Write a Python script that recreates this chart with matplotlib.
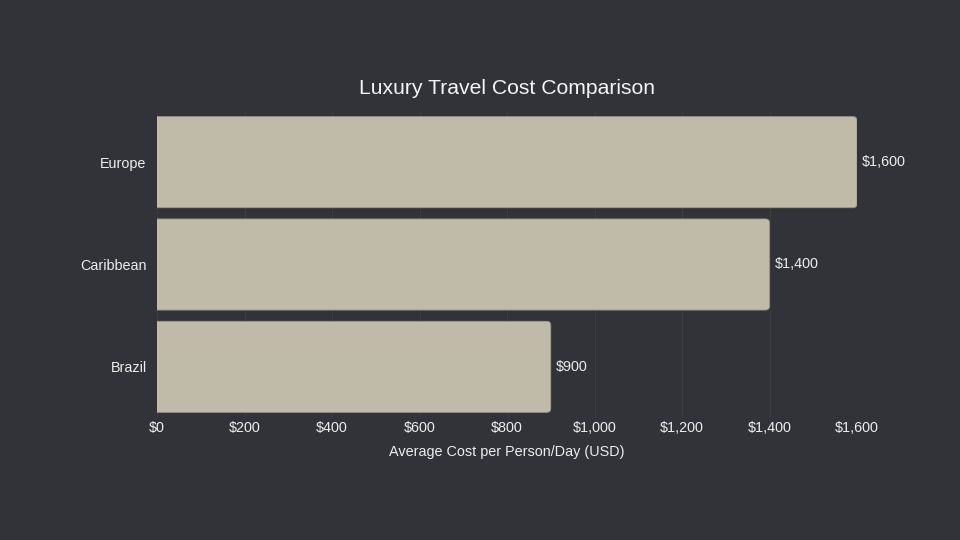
import matplotlib.pyplot as plt
from matplotlib.patches import FancyBboxPatch

# dados
regioes = ["Europe", "Caribbean", "Brazil"]
custos = [1600, 1400, 900]
ticks_x = [0, 200, 400, 600, 800, 1000, 1200, 1400, 1600]

fundo = "#323338"
cor_barra = "#c0baa9"
cor_texto = "#ececec"

plt.rcParams['font.family'] = ['Liberation Sans', 'DejaVu Sans']

fig = plt.figure(figsize=(9.6, 5.4), dpi=100, facecolor=fundo)
ax = fig.add_axes([157 / 960, 1 - 418 / 540, 700 / 960, 307 / 540])
ax.set_facecolor(fundo)

ax.set_xlim(0, 1600)
ax.set_ylim(len(regioes) - 0.5, -0.5)

# escala px por unidade, para arredondar os cantos
px_x = 700 / 1600
px_y = 307 / 3
altura = 0.89
raio = 4 / px_x

for i, (r, c) in enumerate(zip(regioes, custos)):
    caixa = FancyBboxPatch((-30, i - altura / 2), c + 30, altura,
                           boxstyle=f"round,pad=0,rounding_size={raio}",
                           mutation_aspect=px_x / px_y,
                           facecolor=cor_barra, edgecolor="#9d978a", linewidth=0.6,
                           zorder=3, clip_on=True)
    ax.add_patch(caixa)
    ax.annotate(f"${c:,}", (c, i), xytext=(3.8, 0), textcoords="offset points",
                ha="left", va="center", color=cor_texto, fontsize=10.4,
                annotation_clip=False)

ax.set_yticks(range(len(regioes)))
ax.set_yticklabels(regioes)
ax.set_xticks(ticks_x)
ax.set_xticklabels([f"${t:,}" for t in ticks_x])
ax.tick_params(axis="both", length=0, colors=cor_texto, labelsize=10.4)
ax.tick_params(axis="y", pad=7.5)
ax.tick_params(axis="x", pad=2.5)

ax.grid(axis="x", color="#3b3c42", linewidth=0.8, zorder=0)
ax.set_axisbelow(True)
for s in ax.spines.values():
    s.set_visible(False)

ax.set_xlabel("Average Cost per Person/Day (USD)", color=cor_texto, fontsize=10.4, labelpad=7)
fig.text(507 / 960, 1 - 88 / 540, "Luxury Travel Cost Comparison", ha="center", va="center",
         color="#f4f4f4", fontsize=15.2)

fig.savefig("out.png", dpi=100, facecolor=fundo)
